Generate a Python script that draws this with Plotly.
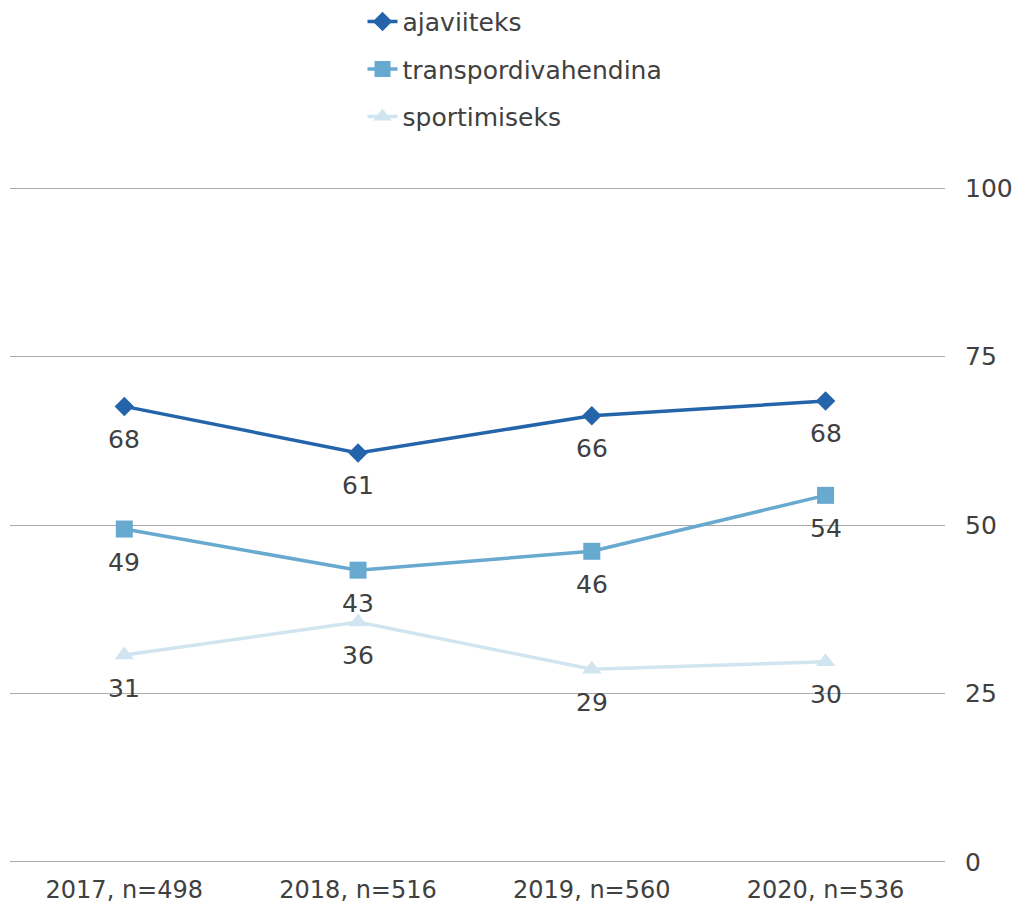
import plotly.graph_objects as go

categories = ["2017, n=498", "2018, n=516", "2019, n=560", "2020, n=536"]
series_names = ["ajaviiteks", "transpordivahendina", "sportimiseks"]
ajaviiteks = [67.6, 60.7, 66.2, 68.4]
transpordivahendina = [49.4, 43.3, 46.1, 54.4]
sportimiseks = [30.7, 35.6, 28.6, 29.7]
y_ticks = [0, 25, 50, 75, 100]

colors = ["#2364aa", "#67a9cf", "#d1e5f0"]
symbols = ["diamond", "square", "triangle-up"]
sizes = [15, 17, 17]
values = [ajaviiteks, transpordivahendina, sportimiseks]

font_family = "DejaVu Sans, Liberation Sans, Arial, sans-serif"
text_color = "#404040"

fig = go.Figure()
for i, (name, vals) in enumerate(zip(series_names, values)):
    fig.add_trace(go.Scatter(
        x=categories, y=vals, name=name, mode="lines+markers",
        line=dict(color=colors[i], width=3.5),
        marker=dict(symbol=symbols[i], size=sizes[i], color=colors[i]),
        legendgroup=name, cliponaxis=False,
    ))
    for c, v in zip(categories, vals):
        fig.add_annotation(x=c, y=v, text=f"{v:.0f}", showarrow=False,
                           yshift=-33, font=dict(size=25, color=text_color,
                                                 family=font_family))

# page body has an 8px default margin, so the figure is sized/offset to compensate
fig.update_layout(
    width=1012, height=895,
    margin=dict(l=2, r=75, t=178, b=39, autoexpand=False),
    paper_bgcolor="white", plot_bgcolor="white",
    font=dict(family=font_family, color=text_color, size=25),
    showlegend=True,
    legend=dict(x=0.377, y=1.276, xanchor="left", yanchor="top",
                font=dict(size=25, color=text_color), tracegroupgap=12,
                bgcolor="rgba(0,0,0,0)"),
    xaxis=dict(type="category", range=[-0.489, 3.511], showgrid=False, showline=False,
               ticks="", ticklabelstandoff=9,
               tickfont=dict(size=24, color=text_color), automargin=False),
    yaxis=dict(range=[-0.3, 100.3], tickvals=y_ticks, side="right", showgrid=True,
               gridcolor="#ababab", gridwidth=1.4, zeroline=False, showline=False,
               ticks="", ticklabelstandoff=19, automargin=False,
               tickfont=dict(size=25, color=text_color)),
)

fig.write_html("out.html")
